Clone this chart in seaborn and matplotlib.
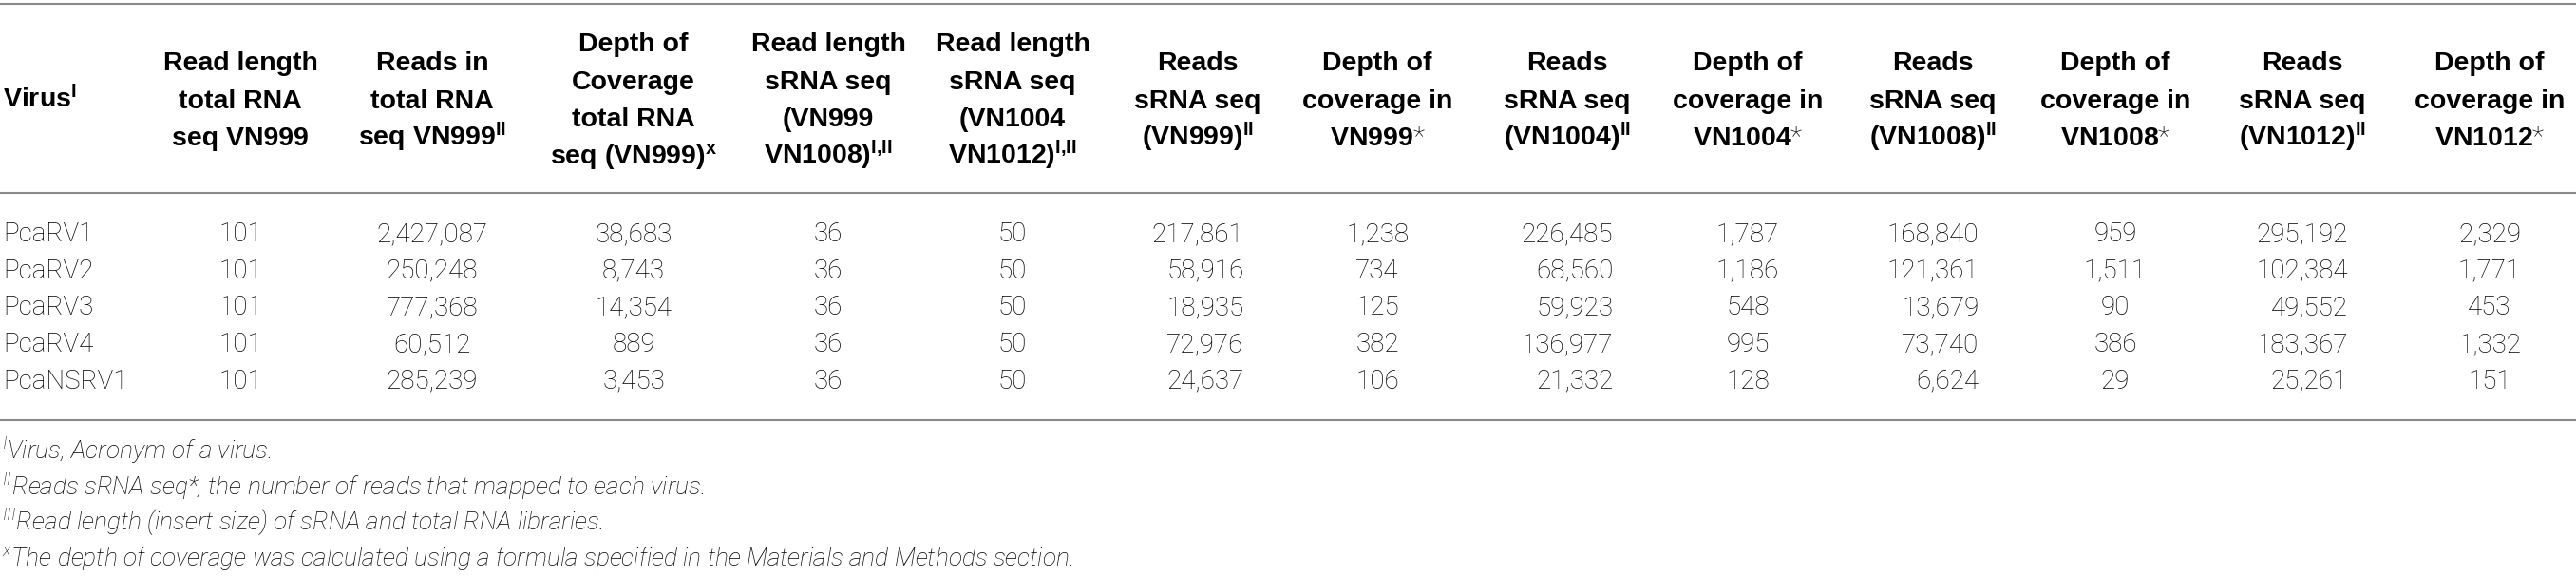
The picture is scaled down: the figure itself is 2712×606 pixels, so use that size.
import matplotlib
matplotlib.use("Agg")
import matplotlib.pyplot as plt
import seaborn as sns

# table values
viruses = ["PcaRV1", "PcaRV2", "PcaRV3", "PcaRV4", "PcaNSRV1"]
read_len_total = [101, 101, 101, 101, 101]
reads_total_vn999 = [2427087, 250248, 777368, 60512, 285239]
depth_total_vn999 = [38683, 8743, 14354, 889, 3453]
read_len_srna_999_1008 = [36, 36, 36, 36, 36]
read_len_srna_1004_1012 = [50, 50, 50, 50, 50]
reads_vn999 = [217861, 58916, 18935, 72976, 24637]
depth_vn999 = [1238, 734, 125, 382, 106]
reads_vn1004 = [226485, 68560, 59923, 136977, 21332]
depth_vn1004 = [1787, 1186, 548, 995, 128]
reads_vn1008 = [168840, 121361, 13679, 73740, 6624]
depth_vn1008 = [959, 1511, 90, 386, 29]
reads_vn1012 = [295192, 102384, 49552, 183367, 25261]
depth_vn1012 = [2329, 1771, 453, 1332, 151]

headers = [
    ["Read length", "total RNA", "seq VN999"],
    ["Reads in", "total RNA", r"seq VN999$^{\mathbf{II}}$"],
    ["Depth of", "Coverage", "total RNA", r"seq (VN999)$^{\mathbf{x}}$"],
    ["Read length", "sRNA seq", "(VN999", r"VN1008)$^{\mathbf{I{,}II}}$"],
    ["Read length", "sRNA seq", "(VN1004", r"VN1012)$^{\mathbf{I{,}II}}$"],
    ["Reads", "sRNA seq", r"(VN999)$^{\mathbf{II}}$"],
    ["Depth of", "coverage in", r"VN999$\mathrm{*}$"],
    ["Reads", "sRNA seq", r"(VN1004)$^{\mathbf{II}}$"],
    ["Depth of", "coverage in", r"VN1004$\mathrm{*}$"],
    ["Reads", "sRNA seq", r"(VN1008)$^{\mathbf{II}}$"],
    ["Depth of", "coverage in", r"VN1008$\mathrm{*}$"],
    ["Reads", "sRNA seq", r"(VN1012)$^{\mathbf{II}}$"],
    ["Depth of", "coverage in", r"VN1012$\mathrm{*}$"],
]

footnotes = [
    r"$^{\mathit{I}}$Virus, Acronym of a virus.",
    r"$^{\mathit{II}}$Reads sRNA seq*, the number of reads that mapped to each virus.",
    r"$^{\mathit{III}}$Read length (insert size) of sRNA and total RNA libraries.",
    r"$^{\mathit{x}}$The depth of coverage was calculated using a formula specified in the Materials and Methods section.",
]

columns = [read_len_total, reads_total_vn999, depth_total_vn999,
           read_len_srna_999_1008, read_len_srna_1004_1012,
           reads_vn999, depth_vn999, reads_vn1004, depth_vn1004,
           reads_vn1008, depth_vn1008, reads_vn1012, depth_vn1012]

# layout (pixels)
W, H = 2712, 606
col_x = [253, 455, 667, 872, 1066, 1261, 1450, 1650, 1840, 2035, 2227, 2424, 2621]
right_cols = {5, 7, 9, 11}
head_mid, head_step = 113.5, 39.5
row_base0, row_step = 254, 38.7
foot_base = [483, 521, 558, 595]
rule_color = "#8a8a8a"

sns.set_theme(style="white")
plt.rcParams["font.family"] = ["Roboto", "DejaVu Sans"]
plt.rcParams["mathtext.fontset"] = "custom"
plt.rcParams["mathtext.rm"] = "Roboto:light"
plt.rcParams["mathtext.it"] = "Roboto:light:italic"
plt.rcParams["mathtext.bf"] = "Liberation Sans:bold"

fig = plt.figure(figsize=(W / 100, H / 100), dpi=100)
ax = fig.add_axes([0, 0, 1, 1])
ax.set_xlim(0, W)
ax.set_ylim(H, 0)
ax.axis("off")

head_kw = dict(family="Liberation Sans", weight="bold", fontsize=20.5, color="black")
body_kw = dict(family="Roboto", weight="light", fontsize=20, color="black")

for y in (4, 203, 442):
    ax.axhline(y, color=rule_color, lw=1.5)

ax.text(3, head_mid, r"Virus$^{\mathbf{I}}$", ha="left", va="baseline", **head_kw)
for x, lines in zip(col_x, headers):
    n = len(lines)
    for k, line in enumerate(lines):
        y = head_mid + (k - (n - 1) / 2) * head_step
        ax.text(x, y, line, ha="center", va="baseline", **head_kw)

renderer = fig.canvas.get_renderer()
for i, name in enumerate(viruses):
    ax.text(3, row_base0 + i * row_step, name, ha="left", va="baseline", **body_kw)

for j, (x, vals) in enumerate(zip(col_x, columns)):
    labels = [f"{v:,}" for v in vals]
    ha = "center"
    if j in right_cols:
        widest = max(labels, key=len)
        t = ax.text(0, 0, widest, **body_kw)
        w = t.get_window_extent(renderer).width
        t.remove()
        x = x + w / 2
        ha = "right"
    for i, lab in enumerate(labels):
        ax.text(x, row_base0 + i * row_step, lab, ha=ha, va="baseline", **body_kw)

for y, f in zip(foot_base, footnotes):
    ax.text(2, y, f, ha="left", va="baseline", family="Roboto", weight="light",
            style="italic", fontsize=19, color="black")

fig.savefig("out.png", dpi=100)
